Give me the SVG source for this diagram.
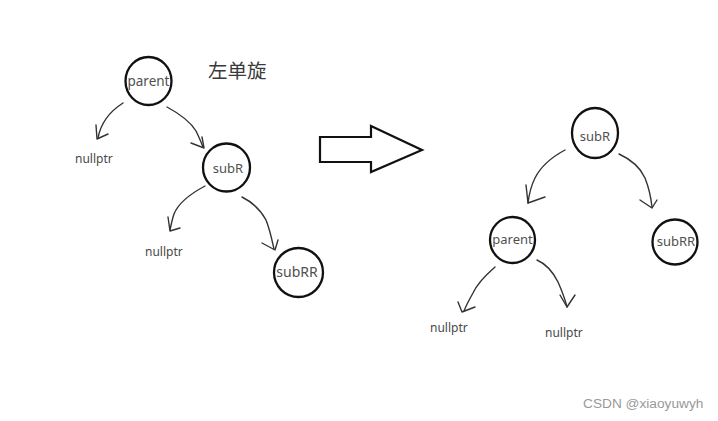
<svg xmlns="http://www.w3.org/2000/svg" width="718" height="421" viewBox="0 0 718 421">
<style>
.node ellipse{fill:#fff;stroke:#111;stroke-width:2.3}
.lbl{font-family:"Noto Sans","Open Sans",sans-serif;font-size:13px;fill:#505050;text-anchor:middle}
.nul{font-family:"Noto Sans","Open Sans",sans-serif;font-size:12px;fill:#484848}
.edge{fill:none;stroke:#333;stroke-width:1.4;stroke-linecap:round;stroke-linejoin:round}
</style>
<rect width="718" height="421" fill="#fff"/>
<text x="208" y="78" style="font-family:'Noto Sans CJK SC',sans-serif;font-size:19.5px;fill:#3a3a3a">左单旋</text>
<g id="connectors">
<path class="edge" d="M123,103 C112,110 101,122 98,138"/>
<path class="edge" d="M96,125 L97,139 L108,134"/>
<path class="edge" d="M167,107 C180,114 190,121 196,131 C199,137 201,142 203,147"/>
<path class="edge" d="M191,143 L204,148 L202,137"/>
<path class="edge" d="M205,186 C190,194 178,204 174,214 C172,220 171,225 170,230"/>
<path class="edge" d="M168,217 L170,231 L180,228"/>
<path class="edge" d="M242,197 C252,202 260,209 266,220 C270,230 272,240 274,249"/>
<path class="edge" d="M262,243 L275,250 L278,240"/>
<path class="edge" d="M565,150 C552,157 541,166 535,178 C531,186 529,195 528,203"/>
<path class="edge" d="M526,185 L528,203 L545,197"/>
<path class="edge" d="M619,154 C630,159 640,167 645,178 C649,188 651,198 652,207"/>
<path class="edge" d="M640,200 L652,208 L657,200"/>
<path class="edge" d="M495,267 C487,274 478,282 473,293 C469,300 466,306 464,311"/>
<path class="edge" d="M458,302 L462,312 L475,307"/>
<path class="edge" d="M537,260 C546,264 553,272 558,282 C562,291 565,299 567,307"/>
<path class="edge" d="M560,295 L567,307 L575,295"/>
<polygon points="320,137 371,137 371,126 422,150 371,172 371,162 320,162" fill="#fff" stroke="#111" stroke-width="2.2" stroke-linejoin="miter"/>
</g>
<g id="n-parent-left" class="node"><ellipse cx="148.5" cy="81" rx="23" ry="24"/><text class="lbl" x="148.5" y="86" style="font-size:13.5px">parent</text></g>
<g id="n-subR-left" class="node"><ellipse cx="226.5" cy="167.5" rx="23.5" ry="24"/><text class="lbl" x="228" y="173">subR</text></g>
<g id="n-subRR-left" class="node"><ellipse cx="298.5" cy="272.5" rx="24.5" ry="24.5"/><text class="lbl" x="297" y="277" style="font-size:14px">subRR</text></g>
<g id="n-null-1"><text class="nul" x="75" y="163">nullptr</text></g>
<g id="n-null-2"><text class="nul" x="145" y="256">nullptr</text></g>
<g id="n-subR-right" class="node"><ellipse cx="595" cy="133" rx="23" ry="25"/><text class="lbl" x="595" y="141">subR</text></g>
<g id="n-parent-right" class="node"><ellipse cx="512.5" cy="240" rx="22.5" ry="23"/><text class="lbl" x="512.5" y="244">parent</text></g>
<g id="n-subRR-right" class="node"><ellipse cx="675" cy="242" rx="22.5" ry="22.5"/><text class="lbl" x="676" y="246">subRR</text></g>
<g id="n-null-3"><text class="nul" x="430" y="332">nullptr</text></g>
<g id="n-null-4"><text class="nul" x="545" y="337">nullptr</text></g>
<text x="583" y="408" style="font-family:'Liberation Sans',Arial,sans-serif;font-size:13.7px;fill:#999">CSDN @xiaoyuwyh</text>
</svg>
